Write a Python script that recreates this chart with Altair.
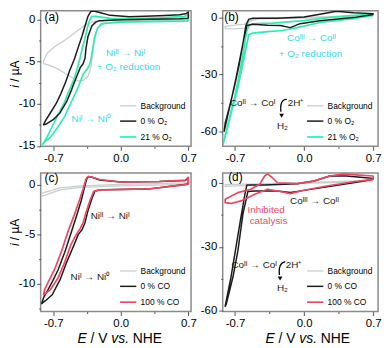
import altair as alt
import pandas as pd

FONT = "Liberation Sans, Arial, sans-serif"
BLACK = "#1c1c1c"
GREEN = "#2fedb0"
GREY = "#c8cfcf"
RED = "#f0465e"
CYAN = "#35d9ea"
TXTRED = "#f04a64"

# ---------------- Panel (a): Ni, O2 ----------------
A_NAMES = ["Background", "0 % O₂", "21 % O₂"]
A_BG_E = [0.70, 0.30, 0.00, -0.16, -0.24, -0.27, -0.29, -0.31, -0.34, -0.38, -0.44, -0.51, -0.59, -0.68, -0.76, -0.80,
          -0.80, -0.76, -0.68, -0.58, -0.45, -0.35, -0.27, -0.11, 0.30, 0.70]
A_BG_I = [-0.17, -0.17, -0.23, -0.46, -1.03, -2.29, -4.0, -5.73, -6.76, -7.2, -7.33, -6.87, -6.3, -5.73, -5.38, -5.27,
          -4.93, -4.0, -3.2, -2.5, -1.37, -0.57, -0.23, -0.11, -0.06, 0.0]
A_BLK_E = [0.70, 0.61, 0.30, 0.00, -0.22, -0.26, -0.30, -0.34, -0.36, -0.37, -0.39, -0.42, -0.46, -0.51, -0.56, -0.63,
           -0.70, -0.77, -0.80, -0.78, -0.73, -0.67, -0.62, -0.57, -0.53, -0.48, -0.44, -0.40, -0.37, -0.34, -0.31,
           -0.28, -0.22, -0.11, 0.09, 0.40, 0.61, 0.68, 0.70, 0.70]
A_BLK_I = [0.11, 0.06, 0.0, -0.06, -0.17, -0.34, -0.80, -2.06, -3.44, -4.58, -5.27, -5.73, -6.87, -8.36, -9.74, -11.1,
           -11.9, -12.4, -12.5, -12.0, -11.1, -10.0, -8.8, -7.4, -6.1, -4.7, -3.3, -1.95, -0.8, 0.34, 0.92,
           0.97, 0.80, 0.46, 0.29, 0.40, 0.52, 0.69, 0.86, 0.11]
A_GRN_E = [0.70, 0.30, 0.00, -0.20, -0.24, -0.27, -0.29, -0.31, -0.33, -0.36, -0.39, -0.44, -0.51, -0.58, -0.66, -0.73,
           -0.79, -0.81, -0.77, -0.71, -0.65, -0.59, -0.54, -0.48, -0.44, -0.40, -0.37, -0.34, -0.32, -0.30, -0.26,
           -0.11, 0.09, 0.40, 0.66, 0.70, 0.70]
A_GRN_I = [-0.23, -0.29, -0.34, -0.52, -1.03, -2.06, -3.44, -4.81, -5.61, -6.07, -6.53, -8.0, -9.74, -11.5, -12.9, -14.0,
           -14.5, -14.8, -14.1, -12.7, -11.3, -10.0, -8.6, -7.0, -5.4, -3.55, -2.18, -0.8, 0.0, 0.34, 0.34,
           0.11, 0.06, 0.17, 0.34, 0.52, -0.23]

# ---------------- Panel (b): Co, O2 ----------------
B_NAMES = ["Background", "0 % O₂", "21 % O₂"]
B_BG_E = [0.70, 0.00, -0.45, -0.55, -0.60, -0.70, -0.80, -0.80, -0.70, -0.60, -0.55, -0.45, 0.00, 0.70]
B_BG_I = [0.5, -0.3, -0.6, -2.0, -5.5, -6.0, -5.8, -4.6, -4.0, -3.4, -1.5, -0.2, 0.3, 0.8]
B_BLK_E = [0.70, 0.50, 0.16, -0.04, -0.14, -0.24, -0.37, -0.52, -0.58, -0.61, -0.64, -0.69, -0.74, -0.78, -0.81,
           -0.80, -0.76, -0.71, -0.66, -0.62, -0.59, -0.56, -0.52, -0.27, 0.00, 0.16, 0.33, 0.50, 0.70, 0.70]
B_BLK_I = [1.6, 0.0, -1.7, -3.2, -5.3, -4.2, -4.0, -3.5, -4.2, -11, -19, -32, -44, -53, -60,
           -55.8, -47.9, -37.4, -25.3, -13.7, -4.2, -0.8, -0.3, -0.3, 0.3, 1.8, 3.4, 2.6, 2.1, 1.6]
B_GRN_E = [0.70, 0.50, 0.16, -0.07, -0.22, -0.37, -0.52, -0.56, -0.59, -0.63, -0.68, -0.74, -0.79, -0.82,
           -0.79, -0.75, -0.70, -0.65, -0.61, -0.58, -0.55, -0.49, -0.32, 0.00, 0.33, 0.70, 0.70]
B_GRN_I = [1.3, -0.5, -2.6, -5.3, -6.8, -7.4, -8.2, -8.9, -16.3, -26.8, -38.9, -50.5, -61, -66.8,
           -60, -51.6, -41, -28.4, -16.3, -6.8, -3.7, -3.2, -2.9, -1.6, 0.5, 1.8, 1.3]

# ---------------- Panel (c): Ni, CO ----------------
C_NAMES = ["Background", "0 % CO", "100 % CO"]
C_BG_E = [0.70, 0.00, -0.42, -0.63, -0.82, -0.82, -0.63, -0.42, 0.00, 0.70]
C_BG_I = [0.05, -0.10, -0.25, -0.50, -1.15, -0.85, -0.30, -0.10, 0.05, 0.20]
C_BLK_E = [0.70, 0.30, 0.00, -0.22, -0.27, -0.30, -0.34, -0.37, -0.40, -0.44, -0.49, -0.56, -0.63, -0.71, -0.78, -0.82,
           -0.80, -0.76, -0.71, -0.65, -0.58, -0.52, -0.46, -0.41, -0.38, -0.355, -0.335, -0.29, -0.22, 0.00, 0.40,
           0.67, 0.70, 0.70]
C_BLK_I = [0.1, -0.4, -0.45, -0.5, -0.65, -1.4, -2.6, -3.8, -4.5, -5.0, -6.2, -7.8, -9.6, -11.1, -11.7, -12.0,
           -11.4, -10.7, -9.8, -8.6, -6.8, -5.0, -3.2, -1.6, -0.4, 0.55, 0.85, 0.75, 0.5, 0.3, 0.35,
           0.45, 0.75, 0.1]
C_RED_E = [0.70, 0.30, 0.00, -0.22, -0.28, -0.32, -0.36, -0.39, -0.42, -0.46, -0.52, -0.58, -0.65, -0.73, -0.80,
           -0.79, -0.75, -0.68, -0.61, -0.55, -0.48, -0.43, -0.39, -0.36, -0.34, -0.30, -0.22, 0.00, 0.40, 0.67,
           0.70, 0.70]
C_RED_I = [0.05, -0.4, -0.45, -0.5, -0.65, -1.6, -2.8, -3.8, -4.4, -5.0, -6.1, -7.8, -9.4, -10.6, -11.1,
           -10.6, -9.8, -8.4, -6.6, -4.8, -3.0, -1.6, -0.4, 0.6, 0.85, 0.8, 0.55, 0.3, 0.35, 0.5,
           0.75, 0.05]

# ---------------- Panel (d): Co, CO ----------------
D_NAMES = ["Background", "0 % CO", "100 % CO"]
D_BG_E = [0.70, 0.00, -0.80, -0.80, 0.00, 0.70]
D_BG_I = [0.7, -0.2, -1.6, -0.7, 0.2, 1.2]
D_BLK_E = [0.70, 0.50, 0.20, -0.05, -0.14, -0.27, -0.50, -0.57, -0.62, -0.67, -0.72, -0.79, -0.80, -0.74, -0.69,
           -0.64, -0.60, -0.58, -0.40, -0.07, 0.10, 0.26, 0.43, 0.60, 0.70, 0.70]
D_BLK_I = [1.8, 0.15, -2.0, -3.8, -4.5, -3.7, -3.7, -4.0, -14.6, -31.6, -44, -57.2, -58, -44, -30,
           -16, -5.3, -0.9, -0.9, -0.3, 1.0, 3.3, 3.3, 2.6, 2.2, 1.8]
D_RED_E = [0.70, 0.50, 0.23, 0.00, -0.14, -0.24, -0.37, -0.50, -0.64, -0.74, -0.80, -0.80, -0.67, -0.54, -0.45,
           -0.40, -0.37, -0.32, -0.27, -0.07, 0.10, 0.26, 0.40, 0.56, 0.70, 0.70]
D_RED_I = [1.7, 0.6, -1.4, -3.4, -5.0, -4.0, -2.9, -5.3, -8.4, -9.6, -9.2, -7.6, -4.5, -2.9, -0.6,
           3.3, 4.3, 2.5, 0.15, -0.3, 0.9, 3.3, 4.3, 3.7, 3.3, 1.7]

# annotations (text, E, I, colour, align)
A_TEXT = [("Niᴵᴵ → Niᴵ", 0.05, -4.0, CYAN, "center"), ("+ O₂ reduction", 0.08, -5.6, CYAN, "center"),
          ("Niᴵ → Ni⁰", -0.31, -11.8, CYAN, "center")]
B_TEXT = [("Coᴵᴵᴵ → Coᴵᴵ", 0.075, -11.0, CYAN, "center"), ("+ O₂ reduction", 0.065, -19.0, CYAN, "center"),
          ("Coᴵᴵ → Coᴵ", -0.29, -45.3, BLACK, "right"), ("2H⁺", -0.165, -45.3, BLACK, "left"),
          ("H₂", -0.22, -57.4, BLACK, "center")]
C_TEXT = [("Niᴵᴵ → Niᴵ", -0.11, -3.1, BLACK, "center"), ("Niᴵ → Ni⁰", -0.32, -9.3, BLACK, "center")]
D_TEXT = [("Coᴵᴵᴵ → Coᴵᴵ", 0.105, -8.4, BLACK, "center"), ("Inhibited", -0.385, -12.6, TXTRED, "center"),
          ("catalysis", -0.36, -18.0, TXTRED, "center"),
          ("Coᴵᴵ → Coᴵ", -0.275, -38.6, BLACK, "right"), ("2H⁺", -0.185, -38.6, BLACK, "left"),
          ("H₂", -0.22, -49.3, BLACK, "center")]
B_ARROW_E = [-0.175, -0.215, -0.24, -0.235]
B_ARROW_I = [-43.2, -43.4, -46.1, -49.7]
B_HEAD = (-0.228, -51.8)
D_ARROW_E = [-0.19, -0.23, -0.255, -0.25]
D_ARROW_I = [-37.0, -37.6, -40.0, -43.3]
D_HEAD = (-0.243, -44.9)


def curves(series):
    rows = []
    for name, E, I in series:
        for k, (e, i) in enumerate(zip(E, I)):
            rows.append({"series": name, "k": k, "E": e, "I": i})
    return pd.DataFrame(rows)


def panel(df, names, colors, widths, xdom, ydom, yvals, ymajor, w, h, texts, label, label_pos,
          arrow=None, head=None, xtitle=None, ytitle=None):
    xaxis = alt.Axis(values=[-0.7, -0.35, 0.0, 0.35, 0.7],
                     labelExpr="abs(datum.value) == 0.35 ? '' : replace(format(datum.value, '.1f'), '\u2212', '-')",
                     tickSize={"condition": {"test": "abs(datum.value) == 0.35", "value": 2}, "value": 4},
                     title=None)
    yaxis = alt.Axis(values=yvals,
                     labelExpr=f"datum.value % {ymajor} == 0 ? replace(format(datum.value, 'd'), '\u2212', '-') : ''",
                     tickSize={"condition": {"test": f"datum.value % {ymajor} != 0", "value": 2}, "value": 4},
                     title=None)
    xs = alt.Scale(domain=xdom, nice=False, zero=False)
    ys = alt.Scale(domain=ydom, nice=False, zero=False)
    x = alt.X("E:Q", scale=xs, axis=xaxis)
    y = alt.Y("I:Q", scale=ys, axis=yaxis)
    lines = alt.Chart(df).mark_line(clip=True, strokeJoin="round").encode(
        x=x, y=y,
        color=alt.Color("series:N", scale=alt.Scale(domain=names, range=colors),
                        legend=alt.Legend(title=None, orient="bottom-right", offset=5, padding=0,
                                          symbolType="stroke", symbolSize=270, symbolStrokeWidth=1.6,
                                          labelFont=FONT, labelFontSize=8.5, rowPadding=1.5, labelOffset=3)),
        strokeWidth=alt.StrokeWidth("series:N", scale=alt.Scale(domain=names, range=widths), legend=None),
        order=alt.Order("k:Q"),
    )
    layers = [lines]
    tdf = pd.DataFrame([{"text": t, "E": e, "I": i, "c": c, "al": al} for t, e, i, c, al in texts])
    for (c, al), sub in tdf.groupby(["c", "al"]):
        layers.append(alt.Chart(sub).mark_text(font=FONT, fontSize=10, color=c, align=al).encode(
            x=x, y=y, text="text:N"))
    ldf = pd.DataFrame([{"text": label, "E": label_pos[0], "I": label_pos[1]}])
    layers.append(alt.Chart(ldf).mark_text(font=FONT, fontSize=12, align="left", color="black").encode(
        x=x, y=y, text="text:N"))
    if arrow is not None:
        adf = pd.DataFrame({"E": arrow[0], "I": arrow[1], "k": list(range(len(arrow[0])))})
        layers.append(alt.Chart(adf).mark_line(color="black", strokeWidth=1.3, interpolate="basis").encode(
            x=x, y=y, order="k:Q"))
        hdf = pd.DataFrame([{"E": head[0], "I": head[1]}])
        layers.append(alt.Chart(hdf).mark_point(shape="triangle-down", filled=True, color="black",
                                                size=22, opacity=1).encode(x=x, y=y))
    one = pd.DataFrame({"a": [0]})
    if xtitle is not None:
        cx, cy = xtitle
        s = cx - 42.8
        for txt, it, off in [("E", True, 0), ("/ V", False, 13.2), ("vs.", True, 34.2), ("NHE", False, 56.0)]:
            layers.append(alt.Chart(one).mark_text(text=txt, font=FONT, fontSize=14, align="left",
                                                   baseline="middle", color="black",
                                                   fontStyle="italic" if it else "normal").encode(
                x=alt.value(s + off), y=alt.value(cy)))
    if ytitle is not None:
        tx, cy = ytitle
        for txt, it, off in [("i", True, 13.8), ("/ µA", False, 7.8)]:
            layers.append(alt.Chart(one).mark_text(text=txt, font=FONT, fontSize=12, align="left",
                                                   baseline="middle", angle=270, color="black",
                                                   fontStyle="italic" if it else "normal").encode(
                x=alt.value(tx), y=alt.value(cy + off)))
    return alt.layer(*layers).properties(width=w, height=h)


pa = panel(curves([(A_NAMES[0], A_BG_E, A_BG_I), (A_NAMES[2], A_GRN_E, A_GRN_I), (A_NAMES[1], A_BLK_E, A_BLK_I)]),
           A_NAMES, [GREY, BLACK, GREEN], [1.3, 1.7, 1.4], [-0.83, 0.728], [-15.05, 1.0],
           [-15, -12.5, -10, -7.5, -5, -2.5, 0], 5, 152, 137, A_TEXT, "(a)", (-0.79, 0.3),
           ytitle=(-26, 64))
pb = panel(curves([(B_NAMES[0], B_BG_E, B_BG_I), (B_NAMES[2], B_GRN_E, B_GRN_I), (B_NAMES[1], B_BLK_E, B_BLK_I)]),
           B_NAMES, [GREY, BLACK, GREEN], [1.3, 1.7, 1.4], [-0.825, 0.75], [-68, 3.6],
           [-60, -45, -30, -15, 0], 30, 157, 137, B_TEXT, "(b)", (-0.81, 0.5),
           arrow=(B_ARROW_E, B_ARROW_I), head=B_HEAD)
pc = panel(curves([(C_NAMES[0], C_BG_E, C_BG_I), (C_NAMES[1], C_BLK_E, C_BLK_I), (C_NAMES[2], C_RED_E, C_RED_I)]),
           C_NAMES, [GREY, BLACK, RED], [1.3, 1.7, 1.4], [-0.83, 0.728], [-12.8, 1.2],
           [-12.5, -10, -7.5, -5, -2.5, 0], 5, 152, 140, C_TEXT, "(c)", (-0.79, 0.7),
           xtitle=(80, 168), ytitle=(-26, 60))
pd_ = panel(curves([(D_NAMES[0], D_BG_E, D_BG_I), (D_NAMES[1], D_BLK_E, D_BLK_I), (D_NAMES[2], D_RED_E, D_RED_I)]),
            D_NAMES, [GREY, BLACK, RED], [1.3, 1.7, 1.4], [-0.825, 0.75], [-60.5, 4.7],
            [-60, -45, -30, -15, 0], 30, 157, 140, D_TEXT, "(d)", (-0.77, 2.6),
            arrow=(D_ARROW_E, D_ARROW_I), head=D_HEAD, xtitle=(86, 168))

chart = alt.concat(pa, pb, pc, pd_, columns=2, spacing={"row": 27, "column": 32}, bounds="flush").resolve_scale(
    color="independent", strokeWidth="independent"
).properties(padding=0).configure_view(stroke="#8c8c8c", strokeWidth=1.5).configure_axis(
    labelFont=FONT, labelFontSize=11.5, labelColor="black", labelPadding=2, domain=False, grid=False,
    tickColor="#555555", tickWidth=1, labelOverlap=False, labelFlush=False
)

chart.save("out.html", embed_options={"renderer": "svg", "actions": False})
